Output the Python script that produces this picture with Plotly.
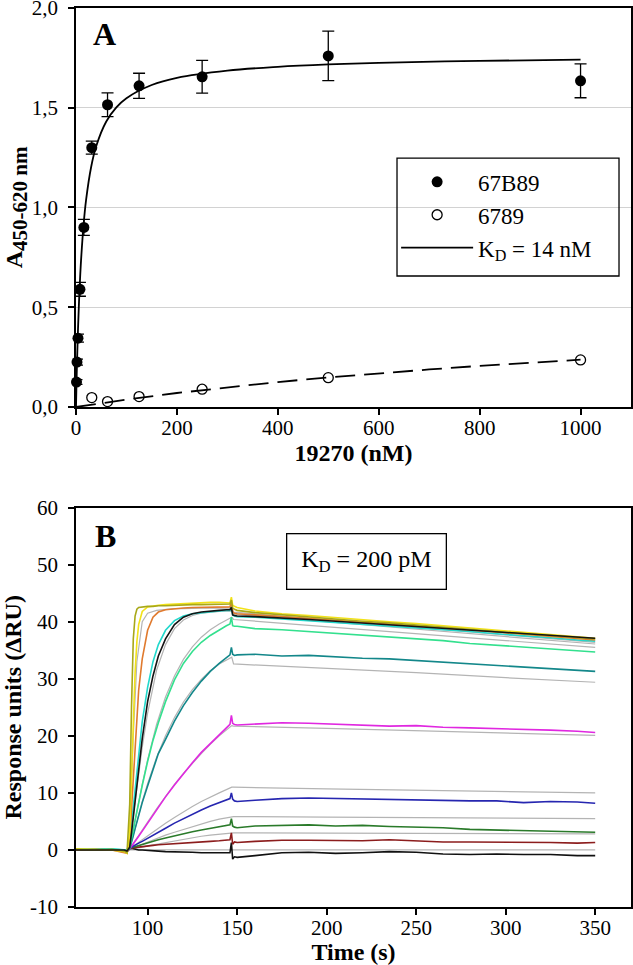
import plotly.graph_objects as go

# ---------------- Panel A data ----------------
conc_67B89 = [0.98, 1.95, 3.9, 7.8, 15.6, 31.25, 62.5, 125, 250, 500, 1000]
abs_67B89 = [0.125, 0.225, 0.345, 0.59, 0.90, 1.30, 1.515, 1.61, 1.655, 1.76, 1.635]
err_67B89 = [0.012, 0.015, 0.02, 0.035, 0.04, 0.033, 0.06, 0.063, 0.082, 0.124, 0.085]

conc_6789 = [31.25, 62.5, 125, 250, 500, 1000]
abs_6789 = [0.047, 0.027, 0.052, 0.089, 0.147, 0.236]

fit_conc = [0, 1, 2, 4, 6, 8, 10, 15, 20, 30, 40, 60, 80, 100, 150, 200, 300, 400, 500, 600, 800, 1000]
fit_67B89 = [0, 0.118, 0.221, 0.392, 0.530, 0.642, 0.735, 0.913, 1.038, 1.203, 1.307, 1.431,
             1.502, 1.548, 1.614, 1.650, 1.686, 1.705, 1.717, 1.725, 1.735, 1.741]

dash_conc = [0, 50, 100, 200, 300, 400, 500, 600, 700, 800, 900, 1000]
dash_6789 = [0, 0.019, 0.037, 0.070, 0.099, 0.125, 0.148, 0.169, 0.188, 0.206, 0.222, 0.237]

a_xticks = [0, 200, 400, 600, 800, 1000]
a_yticks = [0, 0.5, 1.0, 1.5, 2.0]
a_yticktext = ["0,0", "0,5", "1,0", "1,5", "2,0"]

# ---------------- Panel B data ----------------
TIME = [60, 70, 80, 87, 88.5, 90, 91, 92, 93, 94, 95, 97, 100, 103, 106, 110, 115, 120, 125, 130,
        135, 140, 144, 146, 146.8, 147.5, 148.5, 150, 160, 175, 190, 205, 220, 235, 250, 265, 280,
        295, 310, 325, 340, 350]

resp_olive = [0.1, 0.0, 0.1, -0.2, -0.5, 8, 25, 37, 41, 42.2, 42.5, 42.6, 42.7, 42.7, 42.8, 42.8,
              42.9, 42.9, 43.0, 43.0, 43.0, 43.1, 43.1, 43.1, 43.8, 42.4, 42.2, 42.0, 41.6, 41.2,
              40.8, 40.5, 40.1, 39.8, 39.4, 39.0, 38.7, 38.3, 37.9, 37.6, 37.2, 37.0]
resp_yellow = [0.2, 0.1, 0.0, -0.3, -0.6, 3, 11, 22, 31, 36.5, 39.5, 41.8, 42.6, 42.8, 42.9, 43.0,
               43.1, 43.2, 43.3, 43.3, 43.4, 43.4, 43.4, 43.3, 44.3, 42.9, 42.7, 42.5, 41.9, 41.4,
               41.1, 40.7, 40.4, 40.0, 39.7, 39.3, 38.9, 38.5, 38.1, 37.7, 37.3, 37.1]
resp_orange = [0.0, 0.1, 0.0, -0.4, -0.6, 2, 7, 13, 19, 24, 28, 33.5, 38.5, 40.8, 41.7, 42.1,
               42.3, 42.4, 42.5, 42.5, 42.6, 42.6, 42.6, 42.6, 43.5, 41.8, 41.5, 41.4, 41.2, 40.9,
               40.6, 40.3, 39.9, 39.6, 39.3, 38.9, 38.6, 38.2, 37.8, 37.4, 37.0, 36.8]
resp_cyan = [0.2, 0.1, 0.2, 0.1, 0.0, 1.5, 4.5, 8, 11.5, 14.5, 17, 22.5, 28.5, 33, 36, 38.5,
             40.2, 41.0, 41.4, 41.6, 41.8, 41.9, 42.0, 42.0, 42.8, 41.2, 41.0, 40.9, 40.8, 40.5,
             40.2, 39.9, 39.6, 39.3, 39.0, 38.6, 38.3, 37.9, 37.6, 37.2, 36.8, 36.6]
resp_black_top = [0.0, 0.0, 0.1, 0.0, -0.2, 0.5, 3, 6, 8.5, 11.5, 14, 19.5, 26, 30.5, 34, 37,
                  39.5, 40.8, 41.4, 41.7, 41.9, 42.0, 42.1, 42.1, 42.5, 41.2, 41.1, 41.0, 40.9,
                  40.7, 40.4, 40.1, 39.8, 39.5, 39.2, 38.9, 38.6, 38.3, 38.0, 37.7, 37.3, 37.1]
resp_spring = [0.1, 0.2, 0.1, 0.1, 0.0, 0.5, 1.8, 3.5, 5.2, 6.8, 8.3, 11.3, 15.5, 19.2, 22.3, 26.0,
               29.8, 32.7, 34.8, 36.4, 37.6, 38.6, 39.3, 39.6, 40.8, 39.3, 39.2, 39.2, 38.8, 38.6,
               38.3, 38.0, 37.6, 37.4, 37.0, 36.7, 36.2, 35.9, 35.6, 35.3, 35.0, 34.7]
resp_teal = [0.0, 0.1, 0.0, 0.0, -0.1, 0.2, 1.2, 2.5, 3.7, 4.9, 6.1, 8.3, 11.2, 14.1, 16.9, 19.4,
             22.6, 25.3, 27.6, 29.6, 31.3, 32.7, 33.6, 34.2, 35.5, 34.3, 34.1, 34.2, 34.3, 34.0,
             34.1, 33.8, 33.6, 33.5, 33.2, 32.9, 32.6, 32.4, 32.0, 31.8, 31.5, 31.3]
resp_magenta = [0.0, 0.1, 0.0, 0.1, 0.0, 0.2, 0.6, 1.1, 1.5, 2.0, 2.4, 3.3, 4.7, 6.1, 7.5, 9.3,
                11.4, 13.4, 15.3, 17.1, 18.7, 20.3, 21.4, 22.0, 23.6, 22.2, 22.0, 21.9, 22.1, 22.3,
                22.2, 22.0, 21.9, 21.7, 21.8, 21.5, 21.4, 21.3, 21.1, 21.0, 20.8, 20.6]
resp_blue = [0.0, 0.1, 0.0, 0.0, 0.0, 0.3, 0.5, 0.7, 0.9, 1.0, 1.2, 1.5, 2.0, 2.6, 3.1, 3.8,
             4.7, 5.5, 6.3, 7.0, 7.7, 8.3, 8.8, 9.0, 10.0, 8.9, 8.6, 8.5, 8.7, 9.0,
             9.1, 9.0, 8.9, 8.9, 8.8, 8.7, 8.6, 8.6, 8.3, 8.5, 8.4, 8.2]
resp_green = [0.0, 0.1, 0.0, 0.0, 0.0, 0.3, 0.4, 0.5, 0.6, 0.7, 0.8, 1.0, 1.2, 1.5, 1.8, 2.1,
              2.5, 2.9, 3.2, 3.5, 3.8, 4.1, 4.3, 4.4, 5.5, 4.2, 4.0, 3.9, 4.2, 4.3,
              4.4, 4.2, 4.3, 4.1, 4.0, 3.9, 3.6, 3.5, 3.4, 3.3, 3.1, 3.1]
resp_red = [0.0, 0.0, 0.1, 0.0, -0.3, 0.3, 0.3, 0.4, 0.4, 0.5, 0.5, 0.6, 0.7, 0.8, 0.9, 1.0,
            1.1, 1.2, 1.3, 1.4, 1.5, 1.6, 1.7, 1.8, 3.0, 1.0, 1.4, 1.3, 1.5, 1.7,
            1.7, 1.6, 1.6, 1.8, 1.6, 1.4, 1.4, 1.4, 1.3, 1.3, 1.2, 1.3]
resp_black_bottom = [0.0, 0.0, 0.0, 0.0, -0.3, 0.2, 0.3, 0.2, 0.1, 0.1, 0.0, 0.0, -0.1, -0.2, -0.2,
                     -0.3, -0.3, -0.4, -0.4, -0.5, -0.5, -0.6, -0.6, -0.5, 1.3, -1.6, -1.2, -1.3,
                     -1.0, -0.5, -0.4, -0.6, -0.5, -0.3, -0.4, -0.7, -0.8, -0.7, -0.8, -0.8, -1.0, -1.0]

FIT_TIME = [89, 90, 92, 94, 97, 100, 105, 110, 115, 120, 125, 130, 135, 140, 147, 148, 200, 250, 300, 350]
fit_top = [0, 3, 20, 33, 40, 41.5, 42, 42.2, 42.3, 42.3, 42.4, 42.4, 42.4, 42.4, 42.4, 41.7, 40.3, 39.0, 37.7, 36.4]
fit_mid = [0, 1, 6, 11, 18, 24, 31.5, 36, 38.8, 40.3, 41.1, 41.5, 41.7, 41.8, 41.9, 41.3, 40.0, 38.7, 37.4, 36.1]
fit_spring = [0, 0.3, 3.5, 6.8, 11.5, 15.8, 22, 26.8, 30.5, 33.4, 35.6, 37.3, 38.6, 39.6, 40.8, 40.4, 39.1, 37.9, 36.7, 35.5]
fit_teal = [0, 0.2, 2.6, 5.0, 8.5, 11.6, 16.2, 20, 23.2, 25.9, 28.1, 29.9, 31.4, 32.6, 33.8, 32.6, 31.9, 31.1, 30.2, 29.4]
fit_magenta = [0, 0.2, 1.1, 2.1, 3.5, 4.9, 7.2, 9.4, 11.5, 13.4, 15.2, 16.9, 18.5, 20.0, 21.8, 21.7, 21.3, 20.9, 20.5, 20.1]
fit_blue = [0, 0.2, 0.7, 1.1, 1.8, 2.5, 3.6, 4.7, 5.7, 6.7, 7.6, 8.5, 9.3, 10.0, 11.0, 11.0, 10.7, 10.5, 10.2, 10.0]
fit_green = [0, 0.1, 0.4, 0.6, 1.0, 1.4, 2.0, 2.6, 3.1, 3.6, 4.1, 4.6, 5.0, 5.4, 5.85, 5.85, 5.75, 5.7, 5.6, 5.5]
fit_red = [0, 0.05, 0.2, 0.3, 0.5, 0.7, 1.0, 1.3, 1.6, 1.9, 2.1, 2.4, 2.6, 2.8, 3.0, 3.0, 2.95, 2.9, 2.85, 2.8]
fit_black = [0, 0, 0, 0, 0, 0, 0, 0, 0, 0, 0, 0, 0, 0, 0, 0, 0, 0, 0, 0]

b_xticks = [100, 150, 200, 250, 300, 350]
b_yticks = [-10, 0, 10, 20, 30, 40, 50, 60]
b_yticktext = ["-10", "0", "10", "20", "30", "40", "50", "60"]

# ---------------- styles ----------------
FONT = "Liberation Serif"
fits_b = [fit_black, fit_red, fit_green, fit_blue, fit_magenta, fit_teal, fit_spring, fit_mid, fit_top]
data_b = [
    (resp_black_bottom, "#111111"),
    (resp_red, "#8c1d1d"),
    (resp_green, "#2a7a2a"),
    (resp_blue, "#2626b0"),
    (resp_magenta, "#e028e0"),
    (resp_teal, "#13878a"),
    (resp_spring, "#33e08e"),
    (resp_cyan, "#22d8cc"),
    (resp_orange, "#e07a2e"),
    (resp_yellow, "#f2e21a"),
    (resp_olive, "#a8a818"),
    (resp_black_top, "#141414"),
]

fig = go.Figure()

# Panel A
fig.add_trace(go.Scatter(x=dash_conc, y=dash_6789, mode="lines", showlegend=False,
                         line=dict(color="black", width=1.8, dash="20px,9px"),
                         xaxis="x", yaxis="y"))
fig.add_trace(go.Scatter(x=fit_conc, y=fit_67B89, mode="lines", name="K<sub>D</sub> = 14 nM",
                         legendrank=3, line=dict(color="black", width=1.8, shape="spline"),
                         xaxis="x", yaxis="y"))
fig.add_trace(go.Scatter(x=conc_6789, y=abs_6789, mode="markers", name="6789", legendrank=2,
                         marker=dict(symbol="circle-open", size=10, color="black",
                                     line=dict(width=1.3, color="black")),
                         cliponaxis=False, xaxis="x", yaxis="y"))
fig.add_trace(go.Scatter(x=conc_67B89, y=abs_67B89, mode="markers", name="67B89", legendrank=1,
                         marker=dict(symbol="circle", size=11, color="black"),
                         error_y=dict(type="data", array=err_67B89, visible=True,
                                      color="black", thickness=1.3, width=6),
                         cliponaxis=False, xaxis="x", yaxis="y"))

# Panel B fits (grey) then data
for f in fits_b:
    fig.add_trace(go.Scatter(x=FIT_TIME, y=f, mode="lines", showlegend=False,
                             line=dict(color="#b4b4b4", width=1.2),
                             xaxis="x2", yaxis="y2"))
for vals, col in data_b:
    fig.add_trace(go.Scatter(x=TIME, y=vals, mode="lines", showlegend=False,
                             line=dict(color=col, width=1.6),
                             xaxis="x2", yaxis="y2"))

axis_common = dict(showline=True, linecolor="black", linewidth=1.5, mirror=True,
                   ticks="outside", ticklen=6, tickwidth=1.5, tickcolor="black",
                   tickfont=dict(family=FONT, size=21, color="black"), zeroline=False,
                   automargin=False, ticklabeloverflow="allow")
TITLE_FONT = dict(family=FONT, size=24, color="black")

fig.update_layout(
    width=633, height=965,
    margin=dict(l=76, r=2, t=8, b=58),
    paper_bgcolor="white", plot_bgcolor="white",
    font=dict(family=FONT, color="black"),
    xaxis=dict(domain=[0, 1], anchor="y", range=[0, 1100], tickvals=a_xticks,
               showgrid=False, ticklabelstandoff=-5,
               title=dict(text="<b>19270 (nM)</b>", font=TITLE_FONT, standoff=3),
               **axis_common),
    yaxis=dict(domain=[0.5562, 1.0], anchor="x", range=[0, 2.0], tickvals=a_yticks,
               ticktext=a_yticktext, showgrid=True, gridcolor="#d2d2d2", gridwidth=1,
               ticklabelstandoff=6,
               title=dict(text="<b>A<sub><span style='font-size:21px'>450-620 nm</span></sub></b>",
                          font=TITLE_FONT, standoff=2),
               **axis_common),
    xaxis2=dict(domain=[0, 1], anchor="y2", range=[60, 370], tickvals=b_xticks,
                showgrid=False, ticklabelstandoff=-5,
                title=dict(text="<b>Time (s)</b>", font=TITLE_FONT, standoff=0),
                **axis_common),
    yaxis2=dict(domain=[0, 0.4442], anchor="x2", range=[-10, 60], tickvals=b_yticks,
                ticktext=b_yticktext, showgrid=False, ticklabelstandoff=6,
                title=dict(text="<b>Response units (ΔRU)</b>", font=TITLE_FONT, standoff=6),
                **axis_common),
    legend=dict(x=0.5768, y=0.8305, xanchor="left", yanchor="top", bgcolor="rgba(0,0,0,0)",
                borderwidth=0, font=dict(family=FONT, size=23, color="black"),
                itemwidth=72, tracegroupgap=0),
    shapes=[
        dict(type="rect", xref="paper", yref="paper", x0=0.5784, x1=0.9784, y0=0.7019, y1=0.8331,
             line=dict(color="black", width=1.3), fillcolor="rgba(0,0,0,0)"),
    ],
    annotations=[
        dict(text="<b>A</b>", x=57, y=1.87, xref="x", yref="y", showarrow=False,
             font=dict(family=FONT, size=32, color="black")),
        dict(text="<b>B</b>", x=76.2, y=55, xref="x2", yref="y2", showarrow=False,
             font=dict(family=FONT, size=32, color="black")),
        dict(text="K<sub>D</sub> = 200 pM", x=222.2, y=50.6, xref="x2", yref="y2",
             showarrow=False, font=dict(family=FONT, size=24, color="black"),
             bordercolor="black", borderwidth=1.3, borderpad=0, width=158, height=54,
             bgcolor="white"),
    ],
)

fig.write_html("out.html", config={"displayModeBar": False},
               post_script="document.body.style.margin='0px';document.body.style.overflow='hidden';")
